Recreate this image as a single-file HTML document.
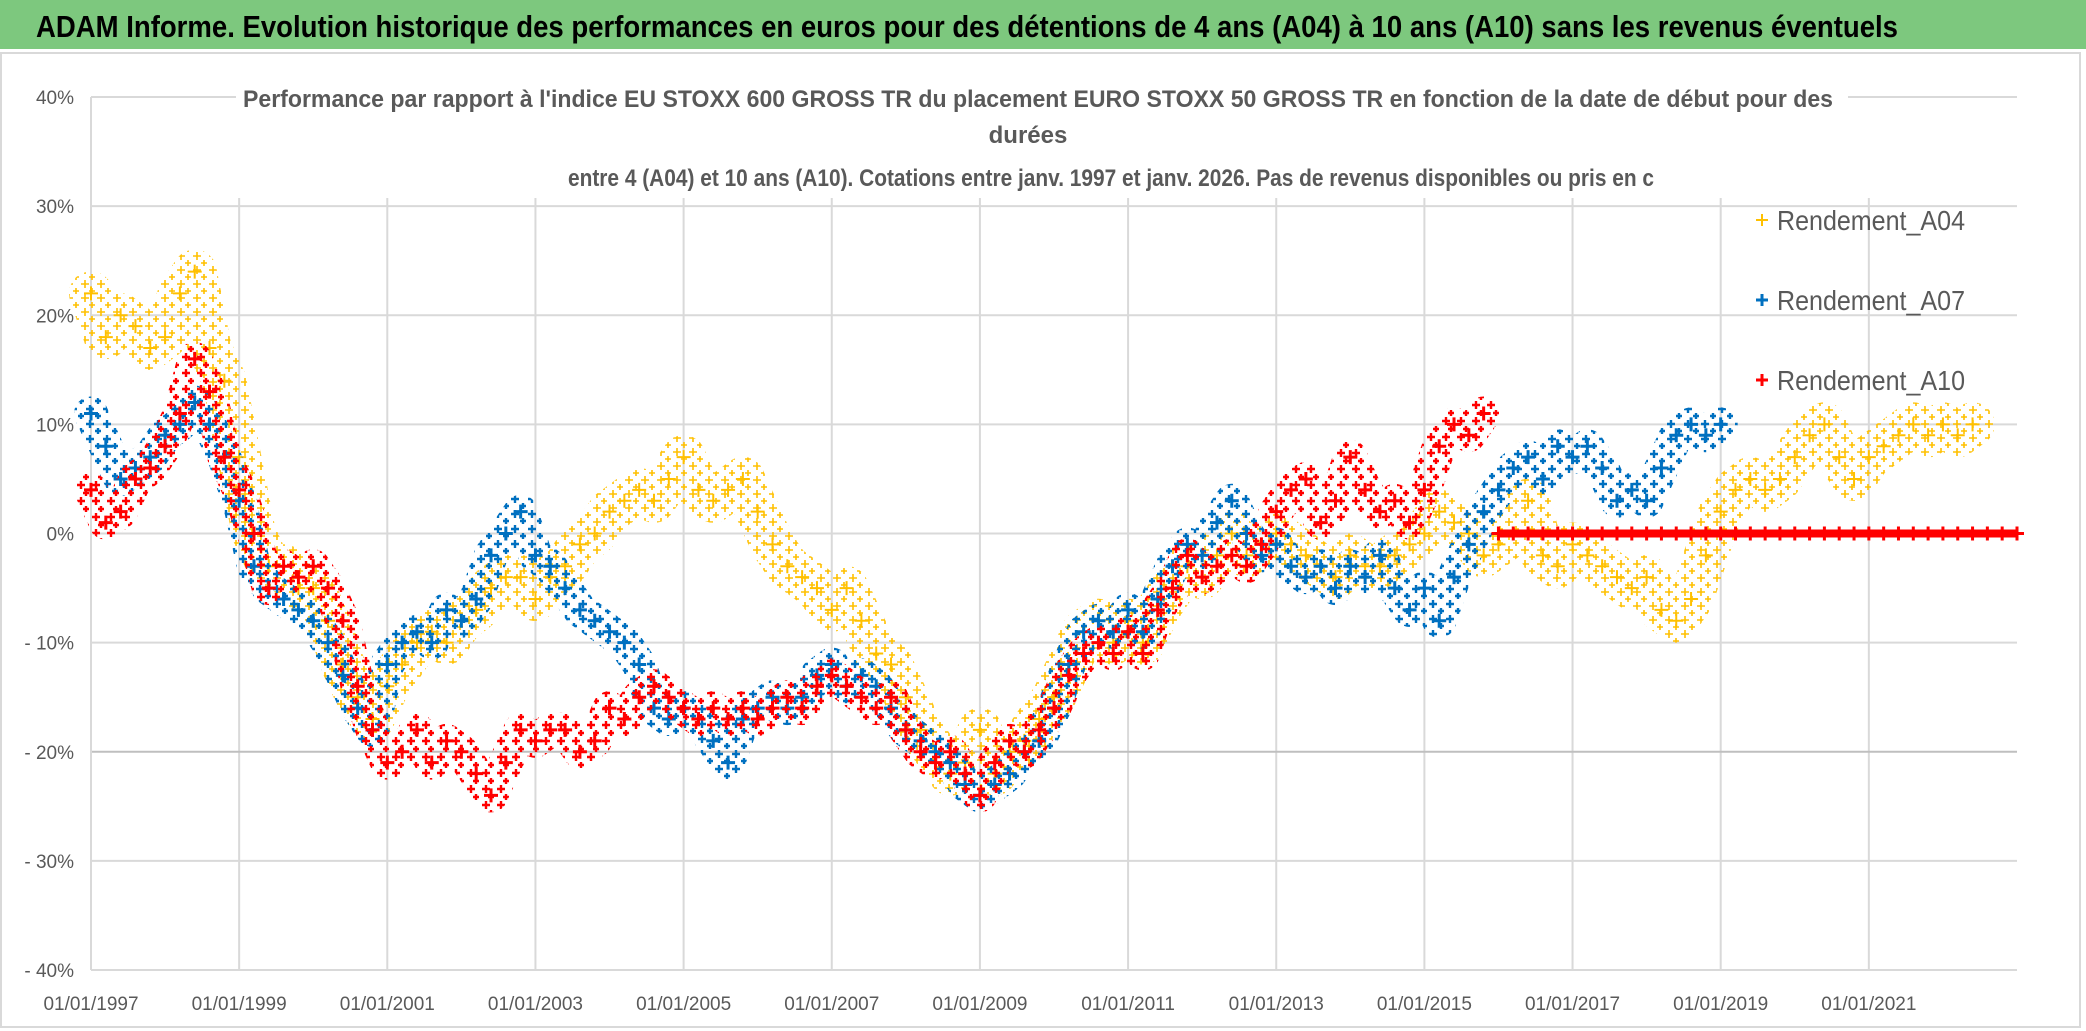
<!DOCTYPE html>
<html><head><meta charset="utf-8">
<style>
html,body{margin:0;padding:0;background:#fff;}
svg{display:block;}
text{font-family:"Liberation Sans",sans-serif;}
</style></head>
<body>
<svg id="chart" width="2086" height="1031" viewBox="0 0 2086 1031" xmlns="http://www.w3.org/2000/svg">
  <defs>
    <pattern id="pat-a04" patternUnits="userSpaceOnUse" width="16" height="14">
      <path d="M1 4h8M5 0v8M9 11h6M12 8v6" stroke="#ffc000" stroke-width="1.6" fill="none"/>
    </pattern>
    <pattern id="pat-a07" patternUnits="userSpaceOnUse" width="17" height="15">
      <path d="M1 4h8M5 0v8M10 11h6M13 8v6" stroke="#0070c0" stroke-width="2.4" fill="none"/>
    </pattern>
    <pattern id="pat-a10" patternUnits="userSpaceOnUse" width="15" height="16">
      <path d="M2 5h8M6 1v8M8 13h6M11 10v6" stroke="#ff0000" stroke-width="2.4" fill="none"/>
    </pattern>
  </defs>
  <rect x="0" y="0" width="2086" height="1031" fill="#ffffff"/>
  <rect x="0" y="0" width="2086" height="49" fill="#7dc87e"/>
  <text x="36" y="37" font-size="31" font-weight="bold" fill="#000" textLength="1862" lengthAdjust="spacingAndGlyphs">ADAM Informe. Evolution historique des performances en euros pour des détentions de 4 ans (A04) à 10 ans (A10) sans les revenus éventuels</text>
  <rect x="1" y="53" width="2079" height="974" fill="none" stroke="#d9d9d9" stroke-width="2"/>
  <g id="grid"></g>
  <g id="yaxis"></g>
  <g id="xaxis"></g>
  <g id="plot"></g>
  <rect x="236" y="78" width="1612" height="116" fill="#ffffff"/>
  <text x="243" y="107" font-size="24" font-weight="bold" fill="#595959" textLength="1590" lengthAdjust="spacingAndGlyphs">Performance par rapport à l'indice EU STOXX 600 GROSS TR  du placement EURO STOXX 50 GROSS TR en fonction de la date de début pour des</text>
  <text x="1028" y="143" font-size="24" font-weight="bold" fill="#595959" text-anchor="middle">durées</text>
  <text x="568" y="186" font-size="24" font-weight="bold" fill="#595959" textLength="1086" lengthAdjust="spacingAndGlyphs">entre 4 (A04) et 10 ans (A10). Cotations entre janv. 1997 et janv. 2026. Pas de revenus disponibles ou pris en c</text>
  <g id="legend">
    <g>
      <path d="M1756 220h12M1762 214v12" stroke="#ffc000" stroke-width="2"/>
      <text x="1777" y="230" font-size="28" fill="#595959" textLength="188" lengthAdjust="spacingAndGlyphs">Rendement_A04</text>
    </g>
    <g>
      <path d="M1756 300h12M1762 294v12" stroke="#0070c0" stroke-width="3"/>
      <text x="1777" y="310" font-size="28" fill="#595959" textLength="188" lengthAdjust="spacingAndGlyphs">Rendement_A07</text>
    </g>
    <g>
      <path d="M1756 380h12M1762 374v12" stroke="#ff0000" stroke-width="3"/>
      <text x="1777" y="390" font-size="28" fill="#595959" textLength="188" lengthAdjust="spacingAndGlyphs">Rendement_A10</text>
    </g>
  </g>
</svg>
<script>
// ---- data ----
const startYear = 1997;
const stepYears = 0.2;
const yTicks = [40, 30, 20, 10, 0, -10, -20, -30, -40];
const yTickLabels = ["40%", "30%", "20%", "10%", "0%", "- 10%", "- 20%", "- 30%", "- 40%"];
const xTickYears = [1997, 1999, 2001, 2003, 2005, 2007, 2009, 2011, 2013, 2015, 2017, 2019, 2021];
const xTickLabels = ["01/01/1997","01/01/1999","01/01/2001","01/01/2003","01/01/2005","01/01/2007","01/01/2009","01/01/2011","01/01/2013","01/01/2015","01/01/2017","01/01/2019","01/01/2021"];
const rendementA04 = [22,18,20,19,17,18,22,24,17,14,
  7,0,-3,-3,-5,-5,-8,-12,-15,-17,
  -14,-12,-10,-9,-10,-8,-7,-5,-4,-4,
  -6,-4,-3,-1,0,2,3,4,3,5,
  7,4,3,4,5,2,-1,-3,-4,-5,
  -7,-5,-8,-11,-12,-15,-18,-20,-22,-21,
  -18,-22,-20,-19,-17,-15,-12,-9,-8,-10,
  -8,-10,-7,-5,-3,-4,-2,0,-2,-1,
  0,-1,-2,-3,-4,-2,-3,-3,-2,-1,
  0,2,1,0,-2,-1,0,3,-2,-3,
  -1,-2,-3,-4,-5,-4,-7,-8,-6,-2,
  2,4,5,4,5,7,9,10,7,5,
  7,8,9,10,9,10,9,10,0,0,0];
const rendementA07 = [11,8,5,6,7,9,10,12,10,7,
  3,-3,-5,-6,-7,-8,-10,-13,-16,-18,
  -12,-10,-9,-10,-7,-8,-6,-2,0,2,
  -2,-3,-5,-7,-8,-9,-10,-12,-16,-17,
  -16,-17,-19,-21,-17,-16,-15,-16,-15,-13,
  -12,-14,-13,-14,-16,-18,-19,-20,-21,-23,
  -24,-23,-22,-20,-19,-16,-12,-9,-8,-9,
  -7,-9,-6,-3,-1,-2,1,3,0,-2,
  -1,-3,-4,-3,-5,-3,-4,-2,-5,-7,
  -5,-8,-4,-1,2,4,6,7,5,8,
  7,8,6,3,4,3,6,9,10,9,
  10];
const rendementA10 = [4,1,2,5,6,8,11,16,13,7,
  4,0,-5,-3,-4,-3,-5,-8,-14,-18,
  -21,-20,-18,-21,-19,-20,-22,-24,-21,-18,
  -19,-18,-18,-20,-19,-16,-17,-15,-14,-15,
  -16,-17,-16,-17,-16,-17,-16,-15,-16,-14,
  -13,-14,-15,-16,-15,-18,-20,-21,-20,-22,
  -24,-21,-19,-20,-18,-16,-13,-11,-10,-11,
  -9,-11,-7,-5,-2,-4,-3,-2,-3,-1,
  2,4,5,1,3,7,4,2,3,1,
  4,8,10,9,11,0,0,0,0,0,
  0,0,0,0,0,0,0,0,0,0,
  0,0,0,0,0,0,0,0,0,0,
  0,0,0,0,0,0,0,0,0,0,0,0,0,0,0,0];

// ---- axes ----
const NS = "http://www.w3.org/2000/svg";
const X0 = 91, X1 = 2017, YEAR0 = 1997, YEAR1 = 2023;
const YTOP = 97, YBOT = 970, VMAX = 40, VMIN = -40;
function xScale(yr){ return X0 + (yr - YEAR0) / (YEAR1 - YEAR0) * (X1 - X0); }
function yScale(v){ return YTOP + (VMAX - v) / (VMAX - VMIN) * (YBOT - YTOP); }
function mk(tag, attrs, parent){
  const e = document.createElementNS(NS, tag);
  for (const k in attrs) e.setAttribute(k, attrs[k]);
  parent.appendChild(e);
  return e;
}
const grid = document.getElementById('grid');
const yaxis = document.getElementById('yaxis');
const xaxis = document.getElementById('xaxis');
const plot = document.getElementById('plot');

xTickYears.forEach((yr, i) => {
  const x = xScale(yr);
  if (i > 0) {
    const l = mk('line', {x1:x, x2:x, y1:198, y2:YBOT, stroke:'#d9d9d9', 'stroke-width':2}, grid);
    
    
  }
  const t = mk('text', {x:x, y:1010, 'font-size':19, fill:'#595959', 'text-anchor':'middle'}, xaxis);
  t.textContent = xTickLabels[i];
  
  
});
yTicks.forEach((v, i) => {
  const y = yScale(v);
  const l = mk('line', {x1:X0, x2:X1, y1:y, y2:y, stroke: v === -20 ? '#bfbfbf' : '#d9d9d9', 'stroke-width':2}, grid);
  
  
  const t = mk('text', {x:74, y:y + 7, 'font-size':19, fill:'#595959', 'text-anchor':'end'}, yaxis);
  t.textContent = yTickLabels[i];
  
  
});
const ax = mk('line', {x1:X0, x2:X0, y1:YTOP, y2:YBOT, stroke:'#d9d9d9', 'stroke-width':2}, grid);



function drawSeries(values, color, sw, bandW, patId, name){
  const g = mk('g', {fill:'none'}, plot);
  
  
  let band = '';
  let tail = '';
  let pen = false;
  values.forEach((v, i) => {
    const yr = startYear + i * stepYears;
    if (yr > YEAR1 + 0.001) return;
    const x = xScale(yr), y = yScale(v);
    const isTail = v === 0 && values.slice(i).every(z => z === 0);
    if (isTail) { pen = false; tail += (tail ? 'L' : 'M') + x + ' ' + y; return; }
    band += (pen ? 'L' : 'M') + x + ' ' + y;
    pen = true;
  });
  const b = mk('path', {d:band, stroke:'url(#' + patId + ')', 'stroke-width':bandW, 'stroke-linejoin':'round', 'stroke-linecap':'round'}, g);
  
  
  if (tail) {
    const tl = mk('path', {d:tail, stroke:color, 'stroke-width':8}, g);
    
    
  }
  let d = '';
  values.forEach((v, i) => {
    const yr = startYear + i * stepYears;
    if (yr > YEAR1 + 0.001) return;
    const x = xScale(yr), y = yScale(v);
    d += 'M' + (x - 7) + ' ' + y + 'h14M' + x + ' ' + (y - 7) + 'v14';
  });
  const p = mk('path', {d:d, stroke:color, 'stroke-width':sw}, g);
  
  
}
drawSeries(rendementA04, '#ffc000', 2, 44, 'pat-a04', 'series-a04');
drawSeries(rendementA07, '#0070c0', 3, 34, 'pat-a07', 'series-a07');
drawSeries(rendementA10, '#ff0000', 3, 34, 'pat-a10', 'series-a10');
</script>
</body></html>
